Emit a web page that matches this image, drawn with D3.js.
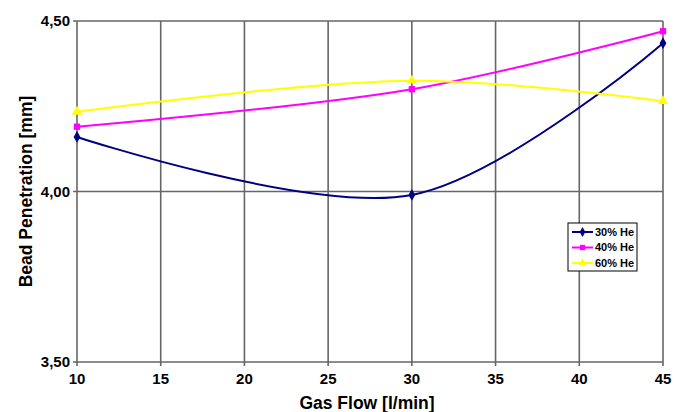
<!DOCTYPE html>
<head>
  <meta charset="utf-8">
  <script src="https://d3js.org/d3.v7.min.js"></script>
  <style>
    body { margin:0; background:#fff; }
    text { font-family: 'Liberation Sans', Arial, sans-serif; font-weight: 700; fill: #000; }
    .grid-line { stroke: #666; stroke-width: 1.6; }
    .tick-label { font-size: 15px; }
    .axis-title { font-size: 17.5px; }
    .legend text { font-size: 11px; }
  </style>
</head>
<body>
<script>
  // data
  var gasFlow = [10, 30, 45];
  var he30 = [4.16, 3.99, 4.435];
  var he40 = [4.19, 4.30, 4.47];
  var he60 = [4.234, 4.325, 4.265];
  var seriesNames = ["30% He", "40% He", "60% He"];
  var xTicks = [10, 15, 20, 25, 30, 35, 40, 45];
  var yTicks = [3.5, 4.0, 4.5];

  var series = [
    {name: seriesNames[0], values: he30, color: "#000080", symbol: d3.symbolDiamond},
    {name: seriesNames[1], values: he40, color: "#ff00ff", symbol: d3.symbolSquare},
    {name: seriesNames[2], values: he60, color: "#ffff00", symbol: d3.symbolTriangle}
  ];

  var margin = {top: 21, right: 18, bottom: 50, left: 77};
  var width = 681 - margin.left - margin.right,
      height = 412 - margin.top - margin.bottom;

  var svg = d3.select("body").append("svg")
      .attr("width", 681)
      .attr("height", 412)
    .append("g")
      .attr("transform", "translate(" + margin.left + "," + margin.top + ")");

  var x = d3.scaleLinear().domain([10, 45]).range([0, width]);
  var y = d3.scaleLinear().domain([3.5, 4.5]).range([height, 0]);

  // grid
  svg.append("g").selectAll("line")
    .data(xTicks)
    .enter().append("line")
      .attr("class", "grid-line")
      .attr("x1", d => x(d)).attr("x2", d => x(d))
      .attr("y1", 0).attr("y2", height + 4);

  svg.append("g").selectAll("line")
    .data(yTicks)
    .enter().append("line")
      .attr("class", "grid-line")
      .attr("x1", -4).attr("x2", width)
      .attr("y1", d => y(d)).attr("y2", d => y(d));

  // tick labels
  var fmt = d3.format(".2f");
  svg.append("g").selectAll("text")
    .data(yTicks)
    .enter().append("text")
      .attr("class", "tick-label")
      .attr("x", -7)
      .attr("y", d => y(d))
      .attr("dy", "0.35em")
      .attr("text-anchor", "end")
      .text(d => fmt(d).replace(".", ","));

  svg.append("g").selectAll("text")
    .data(xTicks)
    .enter().append("text")
      .attr("class", "tick-label")
      .attr("x", d => x(d))
      .attr("y", height + 22)
      .attr("text-anchor", "middle")
      .text(d => d);

  svg.append("text")
    .attr("class", "axis-title")
    .attr("text-anchor", "middle")
    .attr("transform", "translate(" + [-45, height / 2] + ") rotate(-90)")
    .text("Bead Penetration [mm]");

  svg.append("text")
    .attr("class", "axis-title")
    .attr("text-anchor", "middle")
    .attr("x", width / 2 - 3)
    .attr("y", height + 47)
    .text("Gas Flow [l/min]");

  // lines
  var line = d3.line()
    .x((d, i) => x(gasFlow[i]))
    .y(d => y(d))
    .curve(d3.curveCatmullRom.alpha(0.5));

  svg.append("g").selectAll("path")
    .data(series)
    .enter().append("path")
      .attr("d", d => line(d.values))
      .attr("fill", "none")
      .attr("stroke", d => d.color)
      .attr("stroke-width", 2);

  series.forEach(function(s) {
    svg.append("g").selectAll("path")
      .data(s.values)
      .enter().append("path")
        .attr("transform", (d, i) => "translate(" + x(gasFlow[i]) + "," + y(d) + ")")
        .attr("d", d3.symbol().type(s.symbol).size(s.symbol === d3.symbolTriangle ? 45 : 40))
        .attr("fill", s.color);
  });

  // legend
  var legend = svg.append("g")
    .attr("class", "legend")
    .attr("transform", "translate(" + [568 - margin.left, 223 - margin.top] + ")");

  legend.append("rect")
    .attr("width", 69).attr("height", 48)
    .attr("fill", "#fff")
    .attr("stroke", "#000")
    .attr("stroke-width", 1);

  var item = legend.selectAll("g.item")
    .data(series)
    .enter().append("g")
      .attr("class", "item")
      .attr("transform", (d, i) => "translate(0," + (9 + i * 15.5) + ")");

  item.append("line")
    .attr("x1", 4).attr("x2", 25)
    .attr("stroke", d => d.color)
    .attr("stroke-width", 2);

  item.append("path")
    .attr("transform", "translate(14.5,0)")
    .attr("d", d => d3.symbol().type(d.symbol).size(28)())
    .attr("fill", d => d.color);

  item.append("text")
    .attr("x", 27)
    .attr("dy", "0.35em")
    .text(d => d.name);
</script>
</body>
